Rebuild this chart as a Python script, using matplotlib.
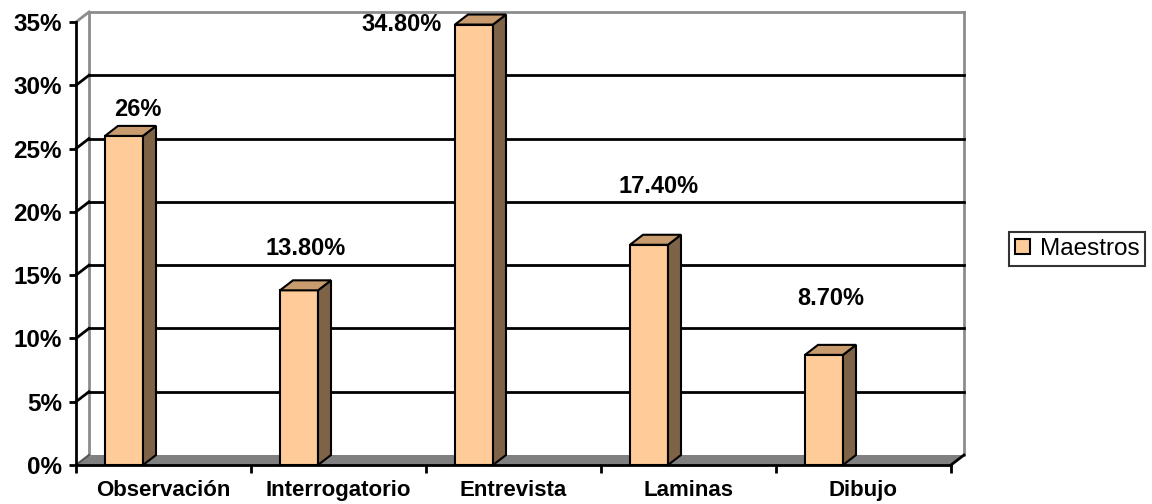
import matplotlib.pyplot as plt
from matplotlib.patches import Polygon, Rectangle
import numpy as np

plt.rcParams['font.family'] = ['Liberation Sans', 'DejaVu Sans']

categorias = ["Observación", "Interrogatorio", "Entrevista", "Laminas", "Dibujo"]
maestros = [0.26, 0.138, 0.348, 0.174, 0.087]
etiquetas = ["26%", "13.80%", "34.80%", "17.40%", "8.70%"]
serie = "Maestros"

# colores estilo Excel 3D
frente = "#FFCC99"
lado = "#7F6347"
techo = "#C99C70"

fig = plt.figure(figsize=(11.52, 5.04), dpi=100)
W, H = 1152, 504
# eje frontal: x 76..951 px, y 465..22 px (desde arriba)
ax = fig.add_axes([76 / W, (H - 465) / H, 875 / W, 443 / H])
n = len(categorias)
ymax = 0.35
ax.set_xlim(0, n)
ax.set_ylim(0, ymax)

# profundidad 3D en unidades de datos
dx = 13 / 175
dy = 10 / (443 / ymax)

# suelo gris
ax.add_patch(Polygon([(0, 0), (n, 0), (n + dx, dy), (dx, dy)], closed=True,
                     facecolor="#808080", edgecolor="none", clip_on=False, zorder=1))
ax.plot([n, n + dx], [0, dy], color="black", lw=2, clip_on=False, zorder=2)
ax.plot([0, dx], [0, dy], color="#555555", lw=1.5, clip_on=False, zorder=2)

# pared del fondo
gray = "#8c8c8c"
ax.plot([dx, dx], [dy, ymax + dy], color=gray, lw=2, clip_on=False, zorder=1)
ax.plot([n + dx, n + dx], [dy, ymax + dy], color=gray, lw=2, clip_on=False, zorder=1)
ax.plot([dx, n + dx], [ymax + dy, ymax + dy], color=gray, lw=2, clip_on=False, zorder=1)
ax.plot([0, dx], [ymax, ymax + dy], color=gray, lw=2, clip_on=False, zorder=1)

yt = np.arange(0.05, ymax, 0.05)
for v in yt:
    ax.plot([dx, n + dx], [v + dy, v + dy], color="black", lw=2, clip_on=False, zorder=1)
    ax.plot([0, dx], [v, v + dy], color="black", lw=2, clip_on=False, zorder=1)

# barras 3D
off = 29 / 175
bw = 38 / 175
x = np.arange(n)
for i, v in enumerate(maestros):
    x0 = x[i] + off
    x1 = x0 + bw
    ax.add_patch(Polygon([(x0, 0), (x1, 0), (x1, v), (x0, v)], closed=True,
                         facecolor=frente, edgecolor="black", lw=1.5, clip_on=False, zorder=3))
    ax.add_patch(Polygon([(x1, 0), (x1 + dx, dy), (x1 + dx, v + dy), (x1, v)], closed=True,
                         facecolor=lado, edgecolor="black", lw=1.5, clip_on=False, zorder=3))
    ax.add_patch(Polygon([(x0, v), (x1, v), (x1 + dx, v + dy), (x0 + dx, v + dy)], closed=True,
                         facecolor=techo, edgecolor="black", lw=1.5, clip_on=False, zorder=3))

# etiquetas de datos
lab_dx = [0.04, 0.0, -0.45, 0.02, 0.0]
lab_dy = [0.0205, 0.0334, 0.0004, 0.0464, 0.0442]
for i, v in enumerate(maestros):
    ax.text(x[i] + off + bw / 2 + dx / 2 + lab_dx[i], v + lab_dy[i], etiquetas[i],
            ha="center", va="center", fontsize=17, fontweight="bold", zorder=5, clip_on=False)

# ejes
for s in ["top", "right"]:
    ax.spines[s].set_visible(False)
ax.spines["left"].set_linewidth(2)
ax.spines["bottom"].set_linewidth(2)
ax.spines["left"].set_zorder(4)
ax.spines["bottom"].set_zorder(4)
ax.set_yticks(np.arange(0, ymax + 0.001, 0.05))
ax.set_yticklabels([f"{int(round(t * 100))}%" for t in np.arange(0, ymax + 0.001, 0.05)],
                   fontsize=17.5, fontweight="bold")
ax.tick_params(axis="y", length=5, width=2, pad=5)
ax.set_xticks(np.arange(n + 1))
ax.set_xticklabels([])
ax.tick_params(axis="x", which="major", length=6, width=2)
ax.set_xticks(x + 0.5, minor=True)
ax.set_xticklabels(categorias, minor=True, fontsize=16, fontweight="bold")
ax.tick_params(axis="x", which="minor", length=0, pad=11)
ax.patch.set_visible(False)

# leyenda
h = Rectangle((0, 0), 1, 1, facecolor=frente, edgecolor="black", lw=1.5)
leg = fig.legend([h], [serie], loc="center left", bbox_to_anchor=(997 / W, 1 - 249 / H),
                 fontsize=17.5, frameon=True, fancybox=False, edgecolor="black",
                 handlelength=0.6, handleheight=0.6, handletextpad=0.4, borderpad=0.25)
leg.get_frame().set_linewidth(1.5)

fig.savefig("out.png", dpi=100)
